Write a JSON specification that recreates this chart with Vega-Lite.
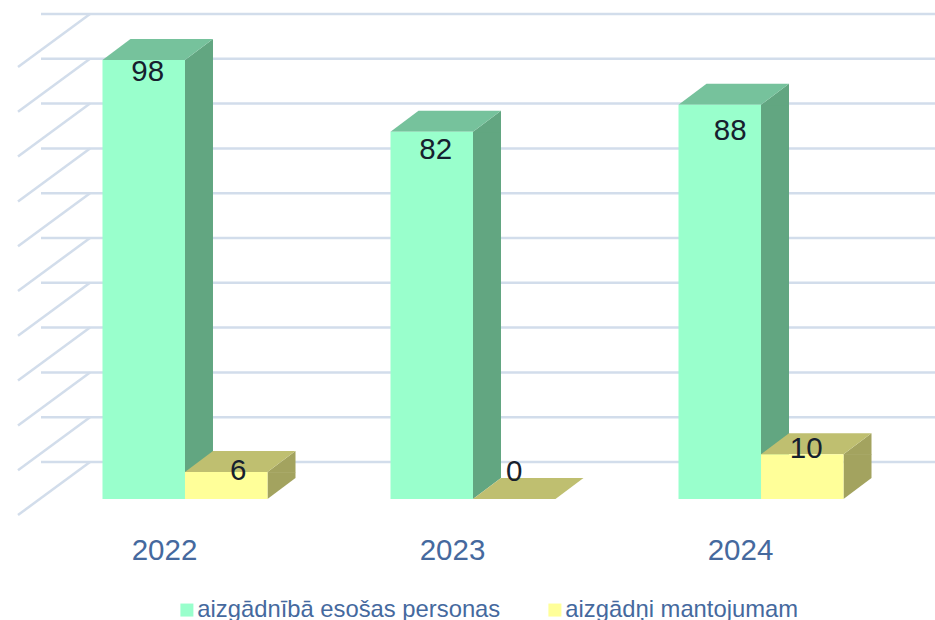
{
"$schema":"https://vega.github.io/schema/vega-lite/v6.json",
"width":864,"height":448,
"autosize":{"type":"none"},
"padding":{"left":41,"top":51,"right":30,"bottom":121},
"background":"white",
"config":{"view":{"stroke":null},"font":"Liberation Sans",
 "axisX":{"domain":false,"ticks":false,"grid":false,"labelAngle":0,"labelOffset":-20.5,"labelPadding":37,"labelFontSize":29.5,"labelColor":"#45699E","labelFont":"Liberation Sans"}},
"datasets":{
"rows":[
{"year":"2022","series":"aizgādnībā esošas personas","value":98},
{"year":"2022","series":"aizgādņi mantojumam","value":6},
{"year":"2023","series":"aizgādnībā esošas personas","value":82},
{"year":"2023","series":"aizgādņi mantojumam","value":0},
{"year":"2024","series":"aizgādnībā esošas personas","value":88},
{"year":"2024","series":"aizgādņi mantojumam","value":10}
],
"grid":[{"tick":0},{"tick":10},{"tick":20},{"tick":30},{"tick":40},{"tick":50},{"tick":60},{"tick":70},{"tick":80},{"tick":90},{"tick":100}]
},
"data":{"name":"rows"},
"layer":[
{"data":{"name":"grid"},"mark":{"type":"rule","color":"#D2DDEB","strokeWidth":2.5,"xOffset":49,"yOffset":-37,"y2Offset":-37},
 "encoding":{"y":{"field":"tick","type":"quantitative","scale":{"domain":[0,100],"nice":false,"zero":false},"axis":null}}},
{"data":{"name":"grid"},"mark":{"type":"point","shape":"M-455,16 L-383,-37","size":4,"filled":false,"stroke":"#D2DDEB","strokeWidth":2.5,"opacity":1},
 "encoding":{"y":{"field":"tick","type":"quantitative","axis":null}}},

{"transform":[{"filter":"datum.series=='aizgādnībā esošas personas'"}],"mark":{"type":"rule","color":"#62A681","strokeWidth":28,"xOffset":14,"y2Offset":-21},
 "encoding":{"x":{"field":"year","type":"nominal","title":null},"y":{"field":"value","type":"quantitative","axis":null},"y2":{"datum":0}}},
{"transform":[{"filter":"datum.series=='aizgādnībā esošas personas'"}],"mark":{"type":"point","shape":"M0,0 L28,-21 L28,0.5 L0,0.5 Z","size":4,"filled":true,"fill":"#62A681","strokeWidth":0,"opacity":1},
 "encoding":{"x":{"field":"year","type":"nominal","title":null},"y":{"field":"value","type":"quantitative","axis":null}}},
{"transform":[{"filter":"datum.series=='aizgādnībā esošas personas'"}],"mark":{"type":"point","shape":"M0,0 L28,-21 L0,-21 Z","size":4,"filled":true,"fill":"#62A681","strokeWidth":0,"opacity":1},
 "encoding":{"x":{"field":"year","type":"nominal","title":null},"y":{"datum":0,"type":"quantitative","axis":null}}},
{"transform":[{"filter":"datum.series=='aizgādnībā esošas personas'"}],"mark":{"type":"point","shape":"M-82.5,0 L-54.5,-21 L28,-21 L0,0 Z","size":4,"filled":true,"fill":"#76C29C","strokeWidth":0,"opacity":1},
 "encoding":{"x":{"field":"year","type":"nominal","title":null},"y":{"field":"value","type":"quantitative","axis":null}}},

{"transform":[{"filter":"datum.series=='aizgādņi mantojumam' && datum.value>0"}],"mark":{"type":"rule","color":"#A3A35F","strokeWidth":28,"xOffset":96.5,"y2Offset":-21},
 "encoding":{"x":{"field":"year","type":"nominal","title":null},"y":{"field":"value","type":"quantitative","axis":null},"y2":{"datum":0}}},
{"transform":[{"filter":"datum.series=='aizgādņi mantojumam' && datum.value>0"}],"mark":{"type":"point","shape":"M82.5,0 L110.5,-21 L110.5,0.5 L82.5,0.5 Z","size":4,"filled":true,"fill":"#A3A35F","strokeWidth":0,"opacity":1},
 "encoding":{"x":{"field":"year","type":"nominal","title":null},"y":{"field":"value","type":"quantitative","axis":null}}},
{"transform":[{"filter":"datum.series=='aizgādņi mantojumam' && datum.value>0"}],"mark":{"type":"point","shape":"M82.5,0 L110.5,-21 L82.5,-21 Z","size":4,"filled":true,"fill":"#A3A35F","strokeWidth":0,"opacity":1},
 "encoding":{"x":{"field":"year","type":"nominal","title":null},"y":{"datum":0,"type":"quantitative","axis":null}}},
{"transform":[{"filter":"datum.series=='aizgādņi mantojumam'"}],"mark":{"type":"point","shape":"M0,0 L28,-21 L110.5,-21 L82.5,0 Z","size":4,"filled":true,"fill":"#BFBF70","strokeWidth":0,"opacity":1},
 "encoding":{"x":{"field":"year","type":"nominal","title":null},"y":{"field":"value","type":"quantitative","axis":null}}},

{"mark":{"type":"bar"},
 "encoding":{
  "x":{"field":"year","type":"nominal","title":null,"scale":{"paddingInner":0.4271,"paddingOuter":0.2135}},
  "xOffset":{"field":"series","type":"nominal"},
  "y":{"field":"value","type":"quantitative","axis":null},
  "y2":{"datum":0},
  "color":{"field":"series","type":"nominal",
   "scale":{"domain":["aizgādnībā esošas personas","aizgādņi mantojumam"],"range":["#99FFCC","#FFFF99"]},
   "legend":{"title":null,"orient":"none","legendX":134,"legendY":547,"direction":"horizontal","columns":2,"symbolType":"square","symbolSize":169,"symbolStrokeWidth":0,"symbolOpacity":1,"labelFontSize":23.8,"labelColor":"#45699E","labelFont":"Liberation Sans","labelOffset":-1.5,"columnPadding":42,"labelLimit":400}}
 }},

{"transform":[{"filter":"datum.value==98"}],"mark":{"type":"text","fontSize":29.5,"color":"#16202E","baseline":"middle","dx":4,"dy":12.5},
 "encoding":{"x":{"field":"year","type":"nominal","title":null},"xOffset":{"field":"series","type":"nominal"},"y":{"field":"value","type":"quantitative","axis":null},"text":{"field":"value","type":"quantitative"}}},
{"transform":[{"filter":"datum.value==82"}],"mark":{"type":"text","fontSize":29.5,"color":"#16202E","baseline":"middle","dx":4,"dy":18},
 "encoding":{"x":{"field":"year","type":"nominal","title":null},"xOffset":{"field":"series","type":"nominal"},"y":{"field":"value","type":"quantitative","axis":null},"text":{"field":"value","type":"quantitative"}}},
{"transform":[{"filter":"datum.value==88"}],"mark":{"type":"text","fontSize":29.5,"color":"#16202E","baseline":"middle","dx":10.5,"dy":26.5},
 "encoding":{"x":{"field":"year","type":"nominal","title":null},"xOffset":{"field":"series","type":"nominal"},"y":{"field":"value","type":"quantitative","axis":null},"text":{"field":"value","type":"quantitative"}}},
{"transform":[{"filter":"datum.value==6"}],"mark":{"type":"text","fontSize":29.5,"color":"#16202E","baseline":"middle","dx":12,"dy":-1.5},
 "encoding":{"x":{"field":"year","type":"nominal","title":null},"xOffset":{"field":"series","type":"nominal"},"y":{"field":"value","type":"quantitative","axis":null},"text":{"field":"value","type":"quantitative"}}},
{"transform":[{"filter":"datum.value==0"}],"mark":{"type":"text","fontSize":29.5,"color":"#16202E","baseline":"middle","dx":0,"dy":-27.5},
 "encoding":{"x":{"field":"year","type":"nominal","title":null},"xOffset":{"field":"series","type":"nominal"},"y":{"field":"value","type":"quantitative","axis":null},"text":{"field":"value","type":"quantitative"}}},
{"transform":[{"filter":"datum.value==10"}],"mark":{"type":"text","fontSize":29.5,"color":"#16202E","baseline":"middle","dx":4,"dy":-5.5},
 "encoding":{"x":{"field":"year","type":"nominal","title":null},"xOffset":{"field":"series","type":"nominal"},"y":{"field":"value","type":"quantitative","axis":null},"text":{"field":"value","type":"quantitative"}}}
]
}
